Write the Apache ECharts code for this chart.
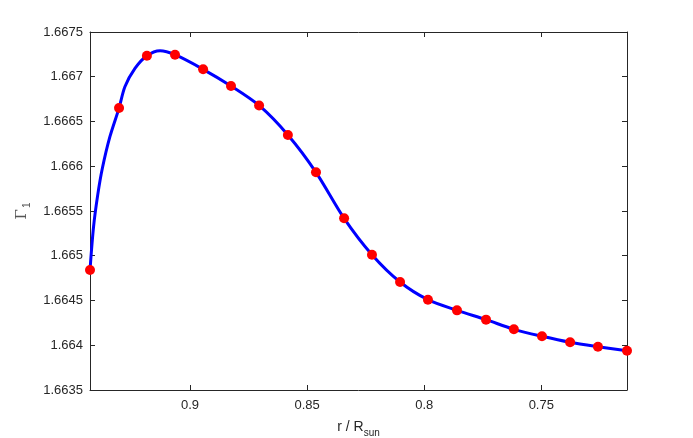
<!DOCTYPE html>
<html>
<head>
<meta charset="utf-8">
<script src="https://cdn.jsdelivr.net/npm/echarts@6/dist/echarts.min.js"></script>
<style>
  html, body { margin: 0; padding: 0; background: #fff; }
  #chart { width: 693px; height: 438px; }
</style>
</head>
<body>
<div id="chart"></div>
<script>
const radius = [0.9427, 0.9303, 0.9184, 0.9064, 0.8944, 0.8825, 0.8705, 0.8582, 0.8462, 0.8342,
  0.8223, 0.8103, 0.7984, 0.7860, 0.7736, 0.7617, 0.7497, 0.7377, 0.7258, 0.7134];
const gamma1 = [1.66484, 1.66665, 1.667235, 1.667246, 1.667083, 1.666897, 1.666679, 1.666349, 1.665932, 1.665418,
  1.665012, 1.664707, 1.664509, 1.66439, 1.664286, 1.664178, 1.6641, 1.664033, 1.663984, 1.663939];
// extra positions read along the blue curve where it bends between markers
const curveR = [0.9412, 0.9394, 0.9374, 0.9342, 0.9278, 0.9235, 0.9128];
const curveG = [1.66532, 1.66568, 1.66598, 1.66633, 1.666889, 1.667094, 1.667291];
const xTicks = [0.75, 0.8, 0.85, 0.9];
const yMin = 1.6635, yMax = 1.6675, yStep = 0.0005;

const axisColor = '#262626';
const font = 'Liberation Sans, Arial, sans-serif';

const points = radius.map(function (r, i) {
  return [r, gamma1[i]];
});
const curve = points.concat(curveR.map(function (r, i) {
  return [r, curveG[i]];
})).sort(function (a, b) {
  return b[0] - a[0];
});

const chart = echarts.init(document.getElementById('chart'), null, { renderer: 'canvas' });

const xBase = {
  type: 'value',
  inverse: true,
  min: radius[radius.length - 1],
  max: radius[0],
  axisLine: { show: true, onZero: false, lineStyle: { color: axisColor, width: 1 } },
  axisTick: { show: true, inside: true, length: 5, customValues: xTicks, lineStyle: { color: axisColor } },
  splitLine: { show: false }
};
const yBase = {
  type: 'value',
  min: yMin,
  max: yMax,
  interval: yStep,
  axisLine: { show: true, onZero: false, lineStyle: { color: axisColor, width: 1 } },
  axisTick: { show: true, inside: true, length: 5, lineStyle: { color: axisColor } },
  splitLine: { show: false }
};

chart.setOption({
  animation: false,
  backgroundColor: '#fff',
  grid: { left: 90, right: 66, top: 32, bottom: 48, containLabel: false, outerBoundsMode: 'none' },
  xAxis: [
    Object.assign({}, xBase, {
      position: 'bottom',
      name: '{m|r / R}{s|sun}',
      nameLocation: 'middle',
      nameGap: 30,
      nameTextStyle: {
        rich: {
          m: { fontFamily: font, fontSize: 14, color: axisColor, lineHeight: 18, verticalAlign: 'top' },
          s: { fontFamily: font, fontSize: 10, color: axisColor, lineHeight: 10, verticalAlign: 'bottom', padding: [10, 0, 0, 0] }
        }
      },
      axisLabel: {
        show: true, customValues: xTicks, margin: 9,
        fontFamily: font, fontSize: 13, color: axisColor,
        formatter: function (v) { return String(+v.toFixed(4)); }
      }
    }),
    Object.assign({}, xBase, { position: 'top', axisLabel: { show: false } })
  ],
  yAxis: [
    Object.assign({}, yBase, {
      position: 'left',
      name: '{m|Γ}{s|1}',
      nameLocation: 'middle',
      nameGap: 52,
      nameRotate: 90,
      nameTextStyle: {
        rich: {
          m: { fontFamily: 'DejaVu Serif, serif', fontWeight: 'lighter', fontSize: 15, color: '#555', lineHeight: 18, verticalAlign: 'top' },
          s: { fontFamily: font, fontSize: 10, color: '#555', lineHeight: 10, verticalAlign: 'bottom', padding: [9, 0, 0, 1] }
        }
      },
      axisLabel: {
        show: true, margin: 7,
        fontFamily: font, fontSize: 13, color: axisColor,
        formatter: function (v) { return String(+v.toFixed(4)); }
      }
    }),
    Object.assign({}, yBase, { position: 'right', axisLabel: { show: false } })
  ],
  series: [
    {
      type: 'line',
      data: curve,
      smooth: 0.3,
      clip: false,
      showSymbol: false,
      lineStyle: { color: '#0000ff', width: 3 },
      z: 2
    },
    {
      type: 'scatter',
      data: points,
      clip: false,
      symbol: 'circle',
      symbolSize: 10,
      itemStyle: { color: '#ff0000', opacity: 1 },
      z: 3
    }
  ]
});
</script>
</body>
</html>
